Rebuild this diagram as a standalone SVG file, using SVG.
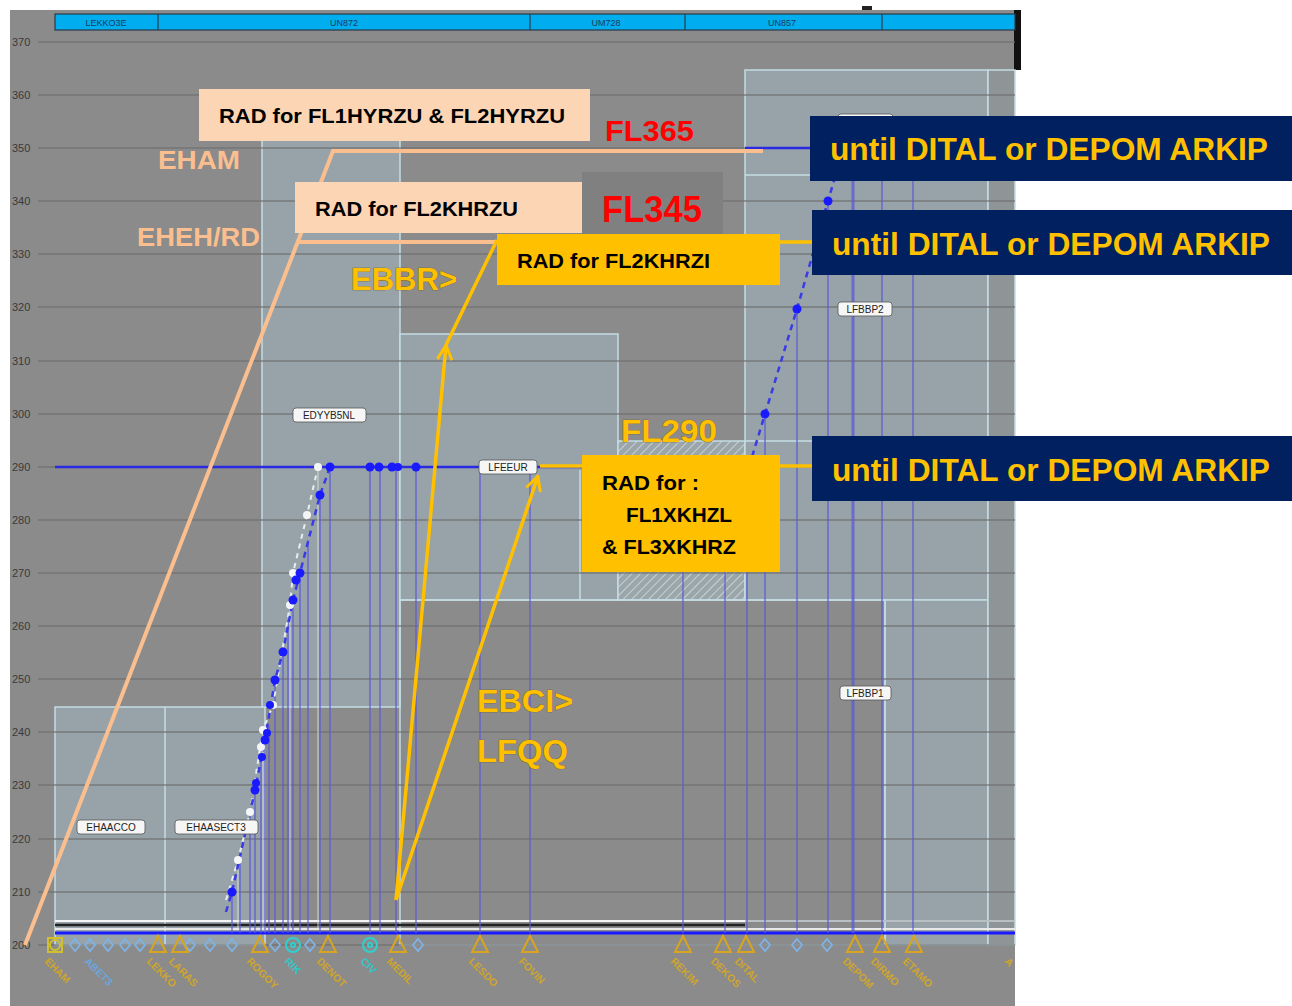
<svg xmlns="http://www.w3.org/2000/svg" width="1292" height="1006" viewBox="0 0 1292 1006">
<defs>
<style>
.bg{fill:#8b8b8b}
.air{fill:#97a3a8;stroke:#c4dde4;stroke-width:1.5}
.edge{fill:none;stroke:#c4dde4;stroke-width:1.5}
.grid{stroke:#6f6f6f;stroke-width:1.6;opacity:0.8}
.ax{font-family:"Liberation Sans",Arial,sans-serif;font-size:11px;fill:#3a3a3a}
.bar{font-family:"Liberation Sans",Arial,sans-serif;font-size:9px;fill:#1a3a60}
.vl{stroke:#5a5ad8;stroke-width:1.6;opacity:0.75}
.prof{stroke:#2a2ae0;stroke-width:2.5;fill:none}
.dash{stroke:#3a3ae8;stroke-width:2.5;fill:none;stroke-dasharray:6 5}
.wdash{stroke:#e8eef0;stroke-width:2;fill:none;stroke-dasharray:5 5}
.dot{fill:#1a1aff}
.wdot{fill:#f4f6f6}
.lbl{fill:#f6f6f6;stroke:#555;stroke-width:0.8}
.lbt{font-family:"Liberation Sans",Arial,sans-serif;font-size:10px;fill:#222}
.tri{fill:none;stroke:#d9a520;stroke-width:2}
.dia{fill:none;stroke:#7fb2e5;stroke-width:1.8}
.cir{fill:none;stroke:#30d0d0;stroke-width:2}
.wpt{font-family:"Liberation Sans",Arial,sans-serif;font-size:10.5px;font-weight:bold;fill:#cfa52c}
.peach{fill:#fcd5b4}
.gold{fill:#ffc000}
.navy{fill:#002060}
.btxt{font-family:"Liberation Sans",Arial,sans-serif;font-weight:bold;font-size:21px;fill:#000}
.utxt{font-family:"Liberation Sans",Arial,sans-serif;font-weight:bold;font-size:31px;fill:#ffc000}
.ptxt{font-family:"Liberation Sans",Arial,sans-serif;font-weight:bold;font-size:25px;fill:#fbbf8f}
.ytxt{font-family:"Liberation Sans",Arial,sans-serif;font-weight:bold;font-size:31px;fill:#ffc000;stroke:#6a5a20;stroke-width:0.6;paint-order:stroke}
.red{font-family:"Liberation Sans",Arial,sans-serif;font-weight:bold;fill:#ff0000}
.pl{stroke:#fbbf8f;stroke-width:4;fill:none}
.yl{stroke:#ffc000;stroke-width:3.5;fill:none}
</style>
<pattern id="hatch" width="6" height="6" patternUnits="userSpaceOnUse" patternTransform="rotate(45)">
<rect width="6" height="6" fill="#9aa6aa"/>
<line x1="0" y1="0" x2="0" y2="6" stroke="#d8dee0" stroke-width="1.5"/>
</pattern>
<marker id="arr" viewBox="0 0 12 12" refX="11" refY="6" markerWidth="5" markerHeight="5" orient="auto" markerUnits="strokeWidth">
<path d="M1,1 L11,6 L1,11" fill="none" stroke="#ffc000" stroke-width="2"/>
</marker>
</defs>

<rect width="1292" height="1006" fill="#ffffff"/>
<g id="chart">
<rect class="bg" x="10" y="10" width="1005" height="996"/>
<rect x="1014" y="10" width="7" height="60" fill="#111"/>
<rect x="275" y="15" width="12" height="6" fill="#111"/>
<rect x="340" y="19" width="10" height="4" fill="#222"/>
<rect x="180" y="17" width="12" height="4" fill="#666"/>
<rect x="862" y="6" width="10" height="4" fill="#222"/>
<rect x="55" y="14" width="960" height="16" fill="#00aeef" stroke="#2a3a4a" stroke-width="1.2"/>
<g stroke="#2a3a4a" stroke-width="1.2">
<line x1="158" y1="14" x2="158" y2="30"/><line x1="530" y1="14" x2="530" y2="30"/><line x1="685" y1="14" x2="685" y2="30"/><line x1="882" y1="14" x2="882" y2="30"/>
</g>
<text class="bar" x="106" y="26" text-anchor="middle">LEKKO3E</text>
<text class="bar" x="344" y="26" text-anchor="middle">UN872</text>
<text class="bar" x="606" y="26" text-anchor="middle">UM728</text>
<text class="bar" x="782" y="26" text-anchor="middle">UN857</text>

<rect class="air" x="55" y="707" width="210" height="238"/>
<line class="edge" x1="165" y1="707" x2="165" y2="945"/>
<rect class="air" x="262" y="140" width="138" height="567"/>
<rect class="air" x="400" y="334" width="218" height="266"/>
<rect x="618" y="441" width="127" height="159" fill="url(#hatch)" stroke="#c4dde4" stroke-width="1.5"/>
<rect class="air" x="745" y="70" width="243" height="530"/>
<rect class="air" x="885" y="600" width="103" height="345"/>
<rect x="988" y="70" width="27" height="875" fill="#8f9496" stroke="#c4dde4" stroke-width="1.5"/>
<rect class="edge" x="400" y="600" width="485" height="345"/>
<line class="edge" x1="745" y1="175" x2="988" y2="175"/>
<line class="edge" x1="745" y1="441" x2="988" y2="441"/>
<line class="edge" x1="580" y1="470" x2="580" y2="600"/>

<g class="grid">
<line x1="38" y1="42" x2="1015" y2="42"/><line x1="38" y1="95" x2="1015" y2="95"/><line x1="38" y1="148" x2="1015" y2="148"/><line x1="38" y1="201" x2="1015" y2="201"/><line x1="38" y1="254" x2="1015" y2="254"/><line x1="38" y1="307" x2="1015" y2="307"/><line x1="38" y1="361" x2="1015" y2="361"/><line x1="38" y1="414" x2="1015" y2="414"/><line x1="38" y1="467" x2="1015" y2="467"/><line x1="38" y1="520" x2="1015" y2="520"/><line x1="38" y1="573" x2="1015" y2="573"/><line x1="38" y1="626" x2="1015" y2="626"/><line x1="38" y1="679" x2="1015" y2="679"/><line x1="38" y1="732" x2="1015" y2="732"/><line x1="38" y1="785" x2="1015" y2="785"/><line x1="38" y1="839" x2="1015" y2="839"/><line x1="38" y1="892" x2="1015" y2="892"/><line x1="38" y1="945" x2="1015" y2="945"/>
</g>
<g class="ax">
<text x="12" y="46">370</text><text x="12" y="99">360</text><text x="12" y="152">350</text><text x="12" y="205">340</text><text x="12" y="258">330</text><text x="12" y="311">320</text><text x="12" y="365">310</text><text x="12" y="418">300</text><text x="12" y="471">290</text><text x="12" y="524">280</text><text x="12" y="577">270</text><text x="12" y="630">260</text><text x="12" y="683">250</text><text x="12" y="736">240</text><text x="12" y="789">230</text><text x="12" y="843">220</text><text x="12" y="896">210</text><text x="12" y="949">200</text>
</g>

<line x1="55" y1="921" x2="745" y2="921" stroke="#f4f4f4" stroke-width="2"/>
<line x1="55" y1="925" x2="745" y2="925" stroke="#222" stroke-width="2.5"/>
<line x1="55" y1="929" x2="1015" y2="929" stroke="#e8e8e8" stroke-width="2"/>
<line x1="55" y1="933" x2="1015" y2="933" stroke="#1a1aff" stroke-width="3"/>
<line x1="745" y1="921" x2="1015" y2="921" stroke="#b8c0c4" stroke-width="2"/>

<g class="vl">
<line x1="232" y1="892" x2="232" y2="933"/><line x1="240" y1="860" x2="240" y2="933"/><line x1="250" y1="812" x2="250" y2="933"/><line x1="255" y1="790" x2="255" y2="933"/><line x1="261" y1="757" x2="261" y2="933"/><line x1="265" y1="740" x2="265" y2="933"/><line x1="269" y1="725" x2="269" y2="933"/><line x1="275" y1="680" x2="275" y2="933"/><line x1="283" y1="652" x2="283" y2="933"/><line x1="288" y1="620" x2="288" y2="933"/><line x1="293" y1="600" x2="293" y2="933"/><line x1="300" y1="573" x2="300" y2="933"/><line x1="308" y1="540" x2="308" y2="933"/><line x1="320" y1="495" x2="320" y2="933"/><line x1="330" y1="467" x2="330" y2="933"/>
<line x1="370" y1="467" x2="370" y2="933"/><line x1="380" y1="467" x2="380" y2="933"/><line x1="396" y1="467" x2="396" y2="933"/><line x1="416" y1="467" x2="416" y2="933"/><line x1="480" y1="467" x2="480" y2="933"/><line x1="530" y1="467" x2="530" y2="933"/>
<line x1="683" y1="467" x2="683" y2="933"/><line x1="725" y1="467" x2="725" y2="933"/><line x1="747" y1="467" x2="747" y2="933"/><line x1="765" y1="414" x2="765" y2="933"/><line x1="797" y1="309" x2="797" y2="933"/><line x1="828" y1="201" x2="828" y2="933"/><line x1="853" y1="175" x2="853" y2="933" style="stroke-width:3"/><line x1="882" y1="175" x2="882" y2="933"/><line x1="913" y1="175" x2="913" y2="933"/>
</g>
<g stroke="#dfe6e8" stroke-width="1.2" opacity="0.7">
<line x1="238" y1="860" x2="238" y2="930"/><line x1="263" y1="730" x2="263" y2="930"/><line x1="290" y1="605" x2="290" y2="930"/><line x1="318" y1="467" x2="318" y2="930"/>
</g>

<line class="prof" x1="55" y1="467" x2="750" y2="467"/>
<line class="prof" x1="745" y1="148" x2="845" y2="148"/>
<polyline class="wdash" points="226,900 238,860 250,812 263,730 273,705 290,605 293,573 307,515 318,467"/>
<polyline class="dash" points="226,912 232,892 255,790 265,740 275,680 283,652 293,600 300,573 320,495 330,467"/>
<polyline class="dash" points="749,467 765,414 797,309 828,201 843,150"/>
<g class="wdot">
<circle cx="238" cy="860" r="4"/><circle cx="250" cy="812" r="4"/><circle cx="261" cy="747" r="4"/><circle cx="263" cy="730" r="4"/><circle cx="273" cy="705" r="4"/><circle cx="290" cy="605" r="4"/><circle cx="293" cy="573" r="4"/><circle cx="307" cy="515" r="4"/><circle cx="318" cy="467" r="4"/>
</g>
<g class="dot">
<circle cx="232" cy="892" r="4.5"/><circle cx="255" cy="790" r="4.5"/><circle cx="256" cy="783" r="4"/><circle cx="262" cy="757" r="4"/><circle cx="265" cy="740" r="4.5"/><circle cx="267" cy="733" r="4"/><circle cx="270" cy="705" r="4"/><circle cx="275" cy="680" r="4.5"/><circle cx="283" cy="652" r="4.5"/><circle cx="293" cy="600" r="4.5"/><circle cx="296" cy="580" r="4.5"/><circle cx="300" cy="573" r="4.5"/><circle cx="320" cy="495" r="4.5"/><circle cx="330" cy="467" r="4.5"/>
<circle cx="370" cy="467" r="4.5"/><circle cx="379" cy="467" r="4.5"/><circle cx="392" cy="467" r="4.5"/><circle cx="398" cy="467" r="4"/><circle cx="416" cy="467" r="4.5"/>
<circle cx="765" cy="414" r="4.5"/><circle cx="797" cy="309" r="4.5"/><circle cx="828" cy="201" r="4.5"/>
</g>

<rect class="lbl" x="77" y="820" width="68" height="14" rx="3"/><text class="lbt" x="111" y="831" text-anchor="middle">EHAACCO</text>
<rect class="lbl" x="175" y="820" width="83" height="14" rx="3"/><text class="lbt" x="216" y="831" text-anchor="middle">EHAASECT3</text>
<rect class="lbl" x="293" y="408" width="73" height="14" rx="3"/><text class="lbt" x="329" y="419" text-anchor="middle">EDYYB5NL</text>
<rect class="lbl" x="479" y="460" width="58" height="14" rx="3"/><text class="lbt" x="508" y="471" text-anchor="middle">LFEEUR</text>
<rect class="lbl" x="838" y="302" width="54" height="14" rx="3"/><text class="lbt" x="865" y="313" text-anchor="middle">LFBBP2</text>
<rect class="lbl" x="840" y="686" width="51" height="14" rx="3"/><text class="lbt" x="865" y="697" text-anchor="middle">LFBBP1</text>
<rect class="lbl" x="838" y="114" width="55" height="10" rx="3"/>

<rect x="48" y="938" width="14" height="14" fill="none" stroke="#d0c030" stroke-width="2"/><circle cx="55" cy="945" r="5" fill="none" stroke="#d0c030" stroke-width="2"/>
<g class="dia">
<path d="M75,939 l5,6 l-5,6 l-5,-6z"/><path d="M90,939 l5,6 l-5,6 l-5,-6z"/><path d="M108,939 l5,6 l-5,6 l-5,-6z"/><path d="M125,939 l5,6 l-5,6 l-5,-6z"/><path d="M140,939 l5,6 l-5,6 l-5,-6z"/><path d="M190,939 l5,6 l-5,6 l-5,-6z"/><path d="M210,939 l5,6 l-5,6 l-5,-6z"/><path d="M232,939 l5,6 l-5,6 l-5,-6z"/><path d="M275,939 l5,6 l-5,6 l-5,-6z"/><path d="M310,939 l5,6 l-5,6 l-5,-6z"/><path d="M418,939 l5,6 l-5,6 l-5,-6z"/><path d="M765,939 l5,6 l-5,6 l-5,-6z"/><path d="M797,939 l5,6 l-5,6 l-5,-6z"/><path d="M827,939 l5,6 l-5,6 l-5,-6z"/>
</g>
<g class="tri">
<path d="M158,936 l-8,16 h16z"/><path d="M180,936 l-8,16 h16z"/><path d="M260,936 l-8,16 h16z"/><path d="M328,936 l-8,16 h16z"/><path d="M398,936 l-8,16 h16z"/><path d="M480,936 l-8,16 h16z"/><path d="M530,936 l-8,16 h16z"/><path d="M683,936 l-8,16 h16z"/><path d="M723,936 l-8,16 h16z"/><path d="M746,936 l-8,16 h16z"/><path d="M855,936 l-8,16 h16z"/><path d="M882,936 l-8,16 h16z"/><path d="M914,936 l-8,16 h16z"/>
</g>
<g class="cir">
<circle cx="293" cy="945" r="7"/><circle cx="293" cy="945" r="2"/><circle cx="370" cy="945" r="7"/><circle cx="370" cy="945" r="2"/>
</g>
<g class="wpt">
<text transform="translate(44,962) rotate(45)">EHAM</text>
<text transform="translate(84,962) rotate(45)" style="fill:#6aa6de">ABET3</text>
<text transform="translate(146,962) rotate(45)">LEKKO</text>
<text transform="translate(168,962) rotate(45)">LARAS</text>
<text transform="translate(246,962) rotate(45)">ROGOY</text>
<text transform="translate(284,962) rotate(45)" style="fill:#30c8c8">RIK</text>
<text transform="translate(316,962) rotate(45)">DENOT</text>
<text transform="translate(360,962) rotate(45)" style="fill:#30c8c8">CIV</text>
<text transform="translate(386,962) rotate(45)">MEDIL</text>
<text transform="translate(468,962) rotate(45)">LESDO</text>
<text transform="translate(518,962) rotate(45)">FOVIN</text>
<text transform="translate(670,962) rotate(45)">REKIM</text>
<text transform="translate(710,962) rotate(45)">DEKOS</text>
<text transform="translate(734,962) rotate(45)">DITAL</text>
<text transform="translate(842,962) rotate(45)">DEPOM</text>
<text transform="translate(870,962) rotate(45)">DIRMO</text>
<text transform="translate(902,962) rotate(45)">ETAMO</text>
<text transform="translate(1004,962) rotate(45)">A</text>
</g>
</g>

<g id="overlay-text">
<text class="ptxt" x="158" y="169" textLength="82" lengthAdjust="spacingAndGlyphs">EHAM</text>
<text class="ptxt" x="137" y="246" textLength="123" lengthAdjust="spacingAndGlyphs">EHEH/RD</text>
<text class="ytxt" x="351" y="290" textLength="106" lengthAdjust="spacingAndGlyphs">EBBR&gt;</text>
<text class="ytxt" x="621" y="442" textLength="96" lengthAdjust="spacingAndGlyphs">FL290</text>
<text class="ytxt" x="477" y="712" textLength="96" lengthAdjust="spacingAndGlyphs">EBCI&gt;</text>
<text class="ytxt" x="477" y="762" textLength="91" lengthAdjust="spacingAndGlyphs">LFQQ</text>
</g>

<g id="connectors">
<polyline class="pl" points="25,945 333,151 763,151"/>
<line class="pl" x1="298" y1="242" x2="497" y2="242"/>
<line class="yl" x1="396" y1="900" x2="446" y2="345" marker-end="url(#arr)"/>
<line class="yl" x1="446" y1="345" x2="497" y2="240"/>
<line class="yl" x1="396" y1="900" x2="538" y2="476" marker-end="url(#arr)"/>
<line class="yl" x1="540" y1="466" x2="582" y2="466"/>
<line class="yl" x1="780" y1="242" x2="812" y2="242"/>
<line class="yl" x1="780" y1="466" x2="812" y2="466"/>
</g>

<g id="rad-hyrzu">
<rect class="peach" x="199" y="89" width="391" height="52"/>
<text class="btxt" x="219" y="123" textLength="346" lengthAdjust="spacingAndGlyphs">RAD for FL1HYRZU &amp; FL2HYRZU</text>
</g>
<g id="fl365">
<text class="red" x="605" y="141" font-size="30" textLength="89" lengthAdjust="spacingAndGlyphs">FL365</text>
</g>
<g id="rad-fl2khrzu">
<rect class="peach" x="295" y="182" width="287" height="51"/>
<text class="btxt" x="315" y="216" textLength="203" lengthAdjust="spacingAndGlyphs">RAD for FL2KHRZU</text>
</g>
<g id="fl345">
<rect x="582" y="172" width="141" height="71" fill="#808080"/>
<text class="red" x="602" y="222" font-size="36" textLength="100" lengthAdjust="spacingAndGlyphs">FL345</text>
</g>
<g id="rad-fl2khrzi">
<rect class="gold" x="497" y="234" width="283" height="51"/>
<text class="btxt" x="517" y="268" textLength="193" lengthAdjust="spacingAndGlyphs">RAD for FL2KHRZI</text>
</g>
<g id="rad-xkhzl">
<rect class="gold" x="582" y="455" width="198" height="117"/>
<text class="btxt" x="602" y="490" textLength="97" lengthAdjust="spacingAndGlyphs">RAD for :</text>
<text class="btxt" x="626" y="522" textLength="106" lengthAdjust="spacingAndGlyphs">FL1XKHZL</text>
<text class="btxt" x="602" y="554" textLength="134" lengthAdjust="spacingAndGlyphs">&amp; FL3XKHRZ</text>
</g>
<g id="until-1">
<rect class="navy" x="810" y="116" width="482" height="65"/>
<text class="utxt" x="830" y="160" textLength="438" lengthAdjust="spacingAndGlyphs">until DITAL or DEPOM ARKIP</text>
</g>
<g id="until-2">
<rect class="navy" x="812" y="210" width="480" height="65"/>
<text class="utxt" x="832" y="255" textLength="438" lengthAdjust="spacingAndGlyphs">until DITAL or DEPOM ARKIP</text>
</g>
<g id="until-3">
<rect class="navy" x="812" y="436" width="480" height="65"/>
<text class="utxt" x="832" y="481" textLength="438" lengthAdjust="spacingAndGlyphs">until DITAL or DEPOM ARKIP</text>
</g>
</svg>
